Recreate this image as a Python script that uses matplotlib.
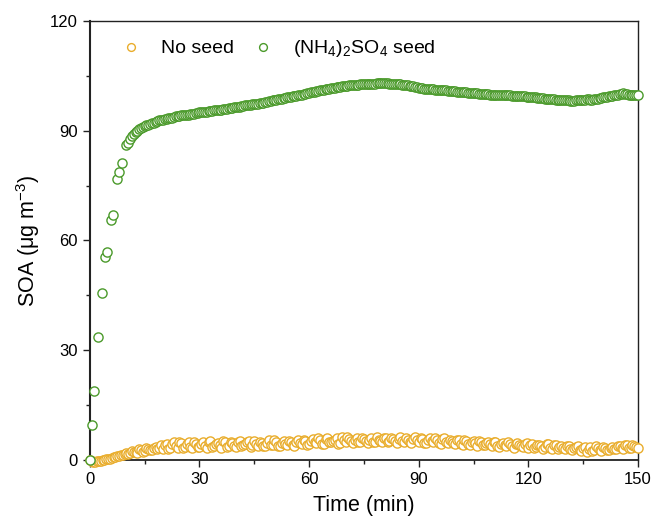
import numpy as np
import matplotlib
matplotlib.use("Agg")
import matplotlib.pyplot as plt
from matplotlib.ticker import MultipleLocator

plt.rcParams['font.family'] = ['Liberation Sans', 'DejaVu Sans']
plt.rcParams['mathtext.fontset'] = 'custom'
plt.rcParams['mathtext.rm'] = 'Liberation Sans'
plt.rcParams['mathtext.default'] = 'regular'

# ---- data ----
green_t_early = [0, 0.6, 1.1, 2.1, 3.2, 4.1, 4.6, 5.7, 6.4, 7.5, 7.9, 8.9, 10.0, 10.5]
green_v_early = [0, 9.6, 18.9, 33.5, 45.7, 55.6, 56.9, 65.6, 67.0, 76.7, 78.7, 81.1, 86.1, 86.6]

# whole minutes 11..150
green_t_int = list(range(11, 151))
green_v_int = [
    87.8, 89.2, 90.0, 90.8, 91.3, 91.7, 92.0, 92.5, 92.8, 93.0,
    93.3, 93.5, 93.7, 94.0, 94.2, 94.3, 94.4, 94.6, 94.8, 95.0,
    95.1, 95.2, 95.4, 95.6, 95.6, 95.8, 96.0, 96.1, 96.3, 96.5,
    96.6, 96.8, 97.0, 97.1, 97.3, 97.4, 97.6, 97.8, 98.0, 98.3,
    98.5, 98.7, 98.9, 99.1, 99.3, 99.5, 99.7, 99.9, 100.1, 100.4,
    100.6, 100.8, 101.0, 101.2, 101.4, 101.6, 101.8, 102.0, 102.1, 102.3,
    102.4, 102.5, 102.6, 102.7, 102.8, 102.8, 102.9, 102.9, 103.0, 103.0,
    103.0, 102.9, 102.9, 102.8, 102.7, 102.6, 102.4, 102.2, 102.0, 101.8,
    101.6, 101.5, 101.4, 101.3, 101.2, 101.1, 101.0, 100.9, 100.9, 100.8,
    100.7, 100.6, 100.5, 100.4, 100.3, 100.2, 100.1, 100.0, 100.0, 99.9,
    99.9, 99.8, 99.8, 99.7, 99.7, 99.6, 99.6, 99.5, 99.4, 99.3,
    99.2, 99.1, 99.0, 98.9, 98.8, 98.7, 98.6, 98.5, 98.4, 98.3,
    98.3, 98.2, 98.3, 98.4, 98.5, 98.6, 98.5, 98.6, 98.8, 99.0,
    99.2, 99.4, 99.6, 99.8, 100.0, 100.2, 100.0, 99.8, 99.9, 99.7,
]
# half minutes 11.5..149.5
green_t_half = [t + 0.5 for t in range(11, 150)]
green_v_half = [
    88.6, 89.6, 90.4, 91.0, 91.5, 91.9, 92.2, 92.7, 92.9, 93.1,
    93.4, 93.6, 93.9, 94.1, 94.2, 94.4, 94.5, 94.7, 94.9, 95.0,
    95.2, 95.3, 95.5, 95.6, 95.7, 95.9, 96.0, 96.2, 96.4, 96.5,
    96.7, 96.9, 97.0, 97.2, 97.3, 97.5, 97.7, 97.9, 98.2, 98.4,
    98.6, 98.8, 99.0, 99.2, 99.4, 99.6, 99.8, 100.0, 100.2, 100.5,
    100.7, 100.9, 101.1, 101.3, 101.5, 101.7, 101.9, 102.0, 102.2, 102.3,
    102.4, 102.5, 102.6, 102.7, 102.8, 102.9, 102.9, 103.0, 103.0, 103.0,
    103.0, 102.9, 102.8, 102.8, 102.6, 102.5, 102.3, 102.1, 101.9, 101.7,
    101.5, 101.4, 101.3, 101.2, 101.1, 101.0, 101.0, 100.9, 100.8, 100.7,
    100.6, 100.5, 100.4, 100.3, 100.2, 100.1, 100.0, 100.0, 99.9, 99.9,
    99.8, 99.8, 99.7, 99.7, 99.6, 99.6, 99.5, 99.4, 99.3, 99.2,
    99.1, 99.0, 98.9, 98.8, 98.7, 98.6, 98.5, 98.4, 98.3, 98.3,
    98.2, 98.2, 98.3, 98.5, 98.5, 98.6, 98.5, 98.7, 98.9, 99.1,
    99.3, 99.5, 99.7, 99.9, 100.1, 100.1, 99.9, 99.8, 99.8,
]

yellow_t_int = list(range(0, 151))
yellow_v_int = [
    0.0, -0.5, -0.4, -0.2, 0.0, 0.3, 0.5, 0.9, 1.2, 1.5,
    1.8, 2.0, 2.3, 1.9, 2.6, 2.5, 3.1, 2.8, 3.6, 3.2,
    3.0, 4.5, 3.4, 4.8, 3.2, 4.6, 3.5, 5.0, 3.3, 4.4,
    3.6, 4.9, 3.4, 5.1, 3.8, 4.7, 3.3, 5.0, 3.9, 4.6,
    3.5, 5.3, 4.0, 4.8, 3.6, 5.2, 3.9, 4.7, 3.7, 5.4,
    4.0, 5.0, 3.8, 5.3, 4.2, 4.8, 3.9, 5.5, 4.3, 5.1,
    4.4, 5.8, 4.6, 5.5, 4.3, 6.0, 4.8, 5.6, 4.5, 6.2,
    4.9, 5.7, 4.6, 6.1, 5.0, 5.8, 4.7, 6.0, 4.9, 5.6,
    4.8, 6.1, 5.1, 5.7, 4.7, 6.3, 5.0, 5.6, 4.6, 6.2,
    5.0, 5.8, 4.6, 6.0, 4.9, 5.5, 4.5, 5.9, 4.7, 5.3,
    4.4, 5.6, 4.2, 5.3, 4.0, 5.2, 3.9, 4.9, 4.1, 5.0,
    3.8, 4.8, 3.6, 4.7, 3.9, 4.5, 3.4, 4.6, 3.7, 4.3,
    3.3, 4.5, 3.5, 4.2, 3.1, 4.4, 3.2, 4.0, 2.9, 3.9,
    3.1, 3.7, 2.6, 3.6, 2.8, 3.4, 2.3, 3.5, 2.6, 3.2,
    2.4, 3.4, 2.7, 3.6, 2.9, 3.8, 3.0, 4.0, 3.2, 3.9,
    3.4,
]
yellow_t_half = [t + 0.5 for t in range(0, 150)]
yellow_v_half = [
    -0.2, -0.6, -0.3, -0.1, 0.2, 0.4, 0.7, 1.0, 1.3, 1.7,
    1.6, 2.4, 2.1, 2.9, 2.2, 3.3, 2.7, 3.4, 3.0, 4.1,
    4.0, 3.1, 4.3, 3.7, 5.0, 3.4, 4.4, 3.6, 4.9, 3.5,
    4.5, 3.7, 4.8, 3.5, 4.4, 4.1, 5.1, 3.6, 4.8, 3.8,
    4.9, 3.7, 4.5, 5.2, 4.1, 4.4, 5.0, 3.8, 4.6, 4.2,
    5.4, 3.9, 4.7, 4.4, 5.3, 4.0, 4.9, 4.6, 5.6, 4.2,
    5.2, 4.8, 6.0, 4.5, 5.7, 5.0, 5.3, 6.1, 4.7, 5.5,
    6.2, 5.1, 5.4, 4.8, 6.0, 5.2, 5.5, 5.0, 6.2, 5.3,
    5.9, 4.9, 6.0, 5.3, 5.8, 5.1, 6.1, 4.8, 5.7, 5.4,
    6.0, 4.7, 5.5, 5.2, 6.1, 4.6, 5.7, 5.0, 5.5, 4.6,
    5.4, 4.5, 5.5, 4.3, 5.0, 4.6, 5.3, 4.2, 4.7, 4.4,
    5.0, 3.9, 4.4, 4.0, 4.9, 3.7, 4.4, 4.1, 3.6, 4.6,
    4.1, 3.3, 4.2, 3.8, 3.5, 4.3, 3.0, 4.1, 3.5, 3.3,
    3.8, 2.9, 3.3, 3.9, 2.5, 3.6, 3.0, 2.4, 3.7, 2.8,
    3.5, 2.6, 3.3, 3.0, 3.7, 3.3, 4.1, 3.4, 4.2, 3.6,
]

labels = ['No seed', '(NH$_4$)$_2$SO$_4$ seed']
yellow_color = '#e9ad2c'
green_color = '#4b9a2b'


def merged(ts, vs):
    t = np.concatenate([np.asarray(a, float) for a in ts])
    v = np.concatenate([np.asarray(a, float) for a in vs])
    order = np.argsort(t, kind='stable')
    return t[order], v[order]


green_t, green_v = merged([green_t_early, green_t_int, green_t_half],
                          [green_v_early, green_v_int, green_v_half])
yellow_t, yellow_v = merged([yellow_t_int, yellow_t_half],
                            [yellow_v_int, yellow_v_half])

fig = plt.figure(figsize=(6.51, 5.31), dpi=100)
ax = fig.add_axes([0.138, 0.1337, 0.842, 0.8268])

ms = 6.6
ax.plot(yellow_t, yellow_v, linestyle='none', marker='o', markersize=ms,
        markerfacecolor='white', markeredgecolor=yellow_color, markeredgewidth=1.0,
        label=labels[0], clip_on=False, zorder=3)
ax.plot(green_t, green_v, linestyle='none', marker='o', markersize=ms,
        markerfacecolor='white', markeredgecolor=green_color, markeredgewidth=1.0,
        label=labels[1], clip_on=False, zorder=3)

ax.set_xlim(0, 150)
ax.set_ylim(0, 120)
ax.xaxis.set_major_locator(MultipleLocator(30))
ax.xaxis.set_minor_locator(MultipleLocator(15))
ax.yaxis.set_major_locator(MultipleLocator(30))
ax.yaxis.set_minor_locator(MultipleLocator(15))
ax.tick_params(which='both', direction='out', top=False, right=False,
               labelsize=12, width=1.0, color='#222222')
ax.tick_params(which='major', length=5)
ax.tick_params(which='minor', length=3)
for s in ax.spines.values():
    s.set_linewidth(1.0)
    s.set_color('#222222')
ax.spines['left'].set_linewidth(1.5)
ax.spines['bottom'].set_linewidth(1.3)

ax.set_xlabel('Time (min)', fontsize=15.5, labelpad=6)
ax.set_ylabel('SOA (μg m$^{-3}$)', fontsize=15.5, labelpad=6)

leg = ax.legend(loc='upper left', ncol=2, frameon=False, fontsize=14,
                bbox_to_anchor=(0.017, 1.0), handletextpad=0.8, columnspacing=0.7,
                markerscale=0.85, handlelength=1.5)

fig.savefig('out.png', dpi=100)
